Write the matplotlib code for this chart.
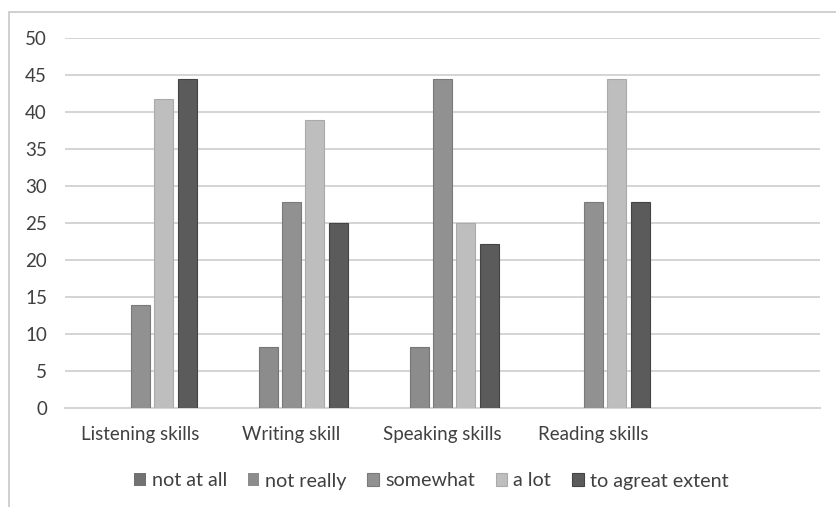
import numpy as np
import matplotlib
matplotlib.use("Agg")
import matplotlib.pyplot as plt
from matplotlib.patches import Rectangle

categories = ["Listening skills", "Writing skill", "Speaking skills", "Reading skills", ""]
series_names = ["not at all", "not really", "somewhat", "a lot", "to agreat extent"]
not_at_all = [0, 0, 0, 0, 0]
not_really = [0, 8.3, 8.3, 0, 0]
somewhat = [13.9, 27.8, 44.4, 27.8, 0]
a_lot = [41.7, 38.9, 25.0, 44.4, 0]
great_extent = [44.4, 25.0, 22.2, 27.8, 0]
y_ticks = [0, 5, 10, 15, 20, 25, 30, 35, 40, 45, 50]

series = [not_at_all, not_really, somewhat, a_lot, great_extent]
colors = ["#727272", "#8c8c8c", "#919191", "#bebebe", "#5b5b5b"]
edges = ["#5e5e5e", "#767676", "#7a7a7a", "#aaaaaa", "#444444"]

plt.rcParams["font.family"] = ["Lato", "DejaVu Sans"]
text_color = "#404040"

W, H = 836, 507
fig = plt.figure(figsize=(W / 100, H / 100), dpi=100)
ax = fig.add_axes([65 / W, 1 - 408 / H, (820 - 65) / W, (408 - 38) / H])

# outer chart-area frame (open at bottom/right beyond the canvas)
fig.patches.append(Rectangle((9 / W, -0.1), 2.0, 1 - 12 / H + 0.1,
                             transform=fig.transFigure, fill=False,
                             edgecolor="#c8c8c8", linewidth=1.2, zorder=0))

x = np.arange(len(categories))
step = 0.1545
width = 0.126
for k, (name, vals) in enumerate(zip(series_names, series)):
    vals = np.asarray(vals, dtype=float)
    lw = np.where(vals > 0, 0.8, 0.0)
    ax.bar(x + (k - 2) * step, vals, width, color=colors[k], edgecolor=edges[k],
           linewidth=lw, label=name, zorder=3)

ax.set_xlim(-0.5, len(categories) - 0.5)
ax.set_ylim(0, 50)
ax.set_yticks(y_ticks)
ax.set_yticklabels([str(v) for v in y_ticks])
ax.set_xticks(x)
ax.set_xticklabels(categories)
ax.yaxis.grid(True, color="#d4d4d4", linewidth=1.4, zorder=0)
ax.set_axisbelow(True)
for side in ["top", "right", "left"]:
    ax.spines[side].set_visible(False)
ax.spines["bottom"].set_color("#d4d4d4")
ax.spines["bottom"].set_linewidth(1.4)
ax.tick_params(axis="both", length=0, labelsize=13.5, colors=text_color)
ax.tick_params(axis="y", pad=13)
ax.tick_params(axis="x", pad=13)

handles, labels = ax.get_legend_handles_labels()
fig.legend(handles, labels, loc="center", bbox_to_anchor=(431 / W, 1 - 481 / H),
           ncol=5, frameon=False, fontsize=14.2, labelcolor=text_color,
           handlelength=0.6, handleheight=0.6, handletextpad=0.3,
           columnspacing=1.05)

fig.savefig("out.png", dpi=100, facecolor="white")
